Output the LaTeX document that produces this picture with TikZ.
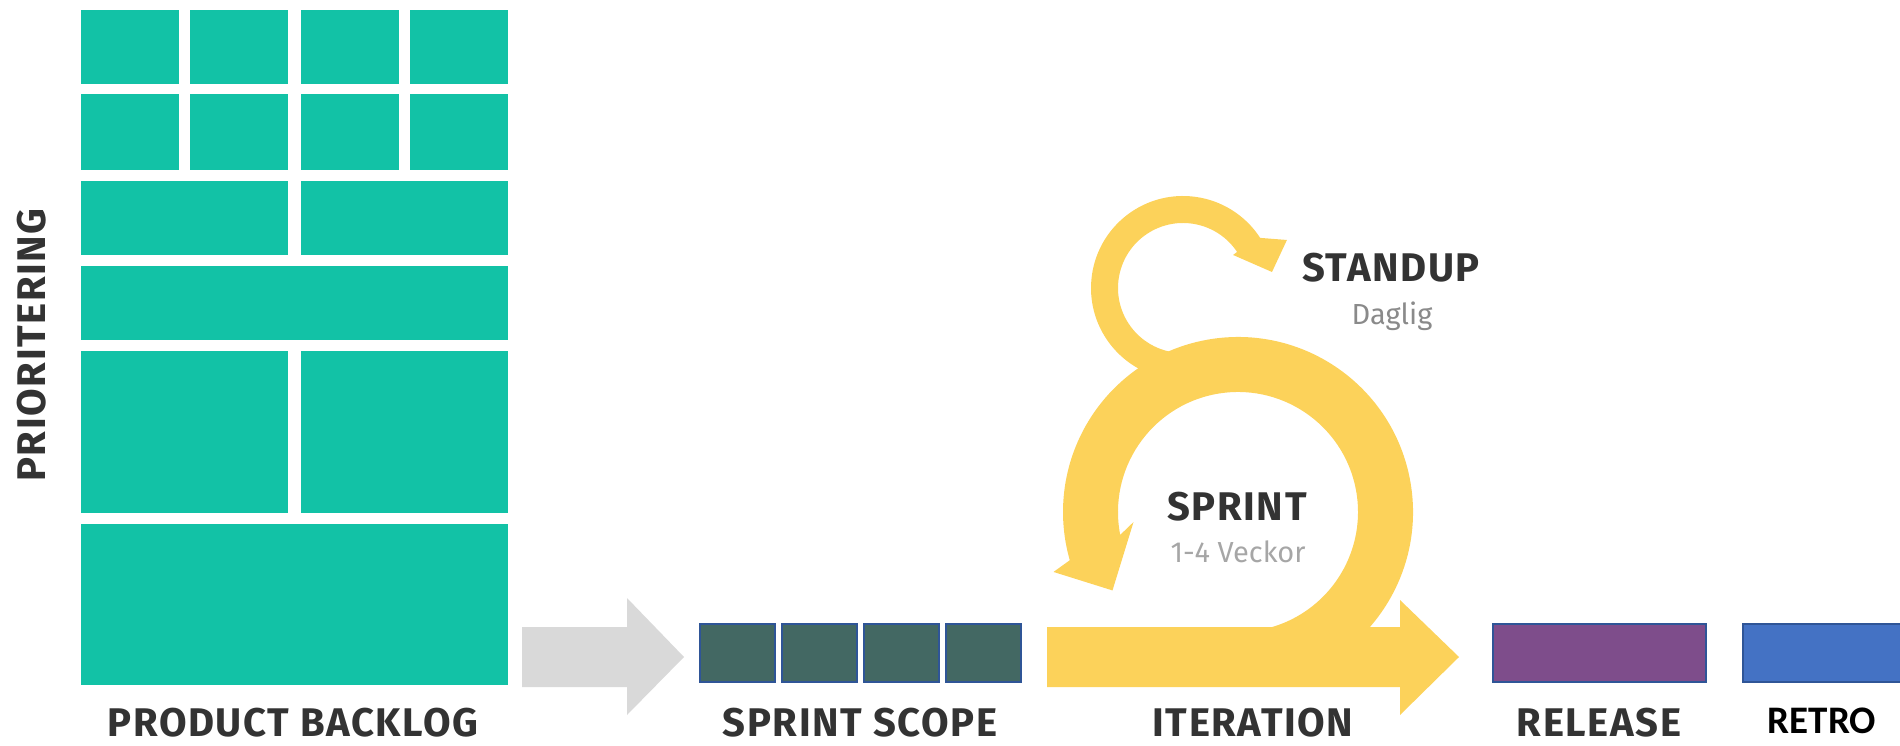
\documentclass[tikz,border=0pt]{standalone}
\usepackage{fontspec}
\setmainfont{Fira Sans}
\newfontfamily\labelfont[LetterSpace=4]{Fira Sans}
\newfontfamily\retrofont{Carlito}

\definecolor{backlogcol}{HTML}{12C2A6}
\definecolor{scopecol}{HTML}{436863}
\definecolor{boxline}{HTML}{2F5597}
\definecolor{releasecol}{HTML}{7E4D8B}
\definecolor{retrocol}{HTML}{4472C4}
\definecolor{arrowgray}{HTML}{D9D9D9}
\definecolor{sprintcol}{HTML}{FCD25A}
\definecolor{labelcol}{HTML}{333333}
\definecolor{dagcol}{HTML}{8A8A8A}
\definecolor{veckcol}{HTML}{A6A6A6}

\tikzset{
    item/.style={fill=backlogcol},
    task/.style={fill=scopecol, draw=boxline, line width=1.5pt},
    label/.style={font=\labelfont\bfseries\fontsize{40}{40}\selectfont, text=labelcol, anchor=base, inner sep=0pt},
    sub/.style={font=\fontsize{29}{29}\selectfont, anchor=base, inner sep=0pt},
}

\begin{document}
\begin{tikzpicture}[x=1pt,y=1pt]
    \useasboundingbox (0,0) rectangle (1900,745);

    % product backlog
    \foreach \x in {81,190,301,410} {
        \fill[item] (\x,661) rectangle ++(98,74);
        \fill[item] (\x,575) rectangle ++(98,76);
    }
    \foreach \x in {81,301} {
        \fill[item] (\x,490) rectangle ++(207,74);
        \fill[item] (\x,232) rectangle ++(207,162);
    }
    \fill[item] (81,405) rectangle (508,479);
    \fill[item] (81,60) rectangle (508,221);

    % backlog -> sprint scope
    \fill[arrowgray] (522,58) -- (627,58) -- (627,30) -- (684,88) -- (627,147) -- (627,118) -- (522,118) -- cycle;

    % sprint scope
    \foreach \i in {0,...,3} {
        \draw[task] (700+\i*82,63) rectangle ++(75,58);
    }

    % release, retro
    \draw[task, fill=releasecol] (1493,63) rectangle (1706,121);
    \draw[task, fill=retrocol] (1743,63) rectangle (1903,121);

    % iteration
    \fill[sprintcol] (1047,58) -- (1400,58) -- (1400,30) -- (1459,88) -- (1400,145) -- (1400,118) -- (1047,118) -- cycle;

    % sprint loop
    \begin{scope}[shift={(1238,233)}]
        \fill[sprintcol] (-80:175) arc[start angle=-80, end angle=196, radius=175]
            -- (198:194) -- (212:148) -- (185.5:105) -- (191:120)
            arc[start angle=191, end angle=-80, radius=120] -- cycle;
    \end{scope}

    % standup loop
    \begin{scope}[shift={(1183,457)}]
        \fill[sprintcol] (262:92) arc[start angle=262, end angle=33, radius=92]
            -- (24.8:114.5) -- (10.2:90.4) -- (33.4:60) -- (33.7:65)
            arc[start angle=33.7, end angle=262, radius=65] -- cycle;
    \end{scope}

    % labels
    \node[label, rotate=90] (prio) at (45,400) {PRIORITERING};
    \node[label] (backlog) at (293,9) {PRODUCT BACKLOG};
    \node[label] (scope) at (860,9) {SPRINT SCOPE};
    \node[label] (iter) at (1253,9) {ITERATION};
    \node[label] (release) at (1599,9) {RELEASE};
    \node[label, font=\retrofont\bfseries\fontsize{39}{39}\selectfont, text=black] (retro) at (1822,12) {RETRO};
    \node[label] (standup) at (1391,463) {STANDUP};
    \node[sub, text=dagcol] (daglig) at (1392,420) {Daglig};
    \node[label] (sprint) at (1237,225) {SPRINT};
    \node[sub, text=veckcol] (veckor) at (1238,183) {1-4 Veckor};

\end{tikzpicture}
\end{document}
